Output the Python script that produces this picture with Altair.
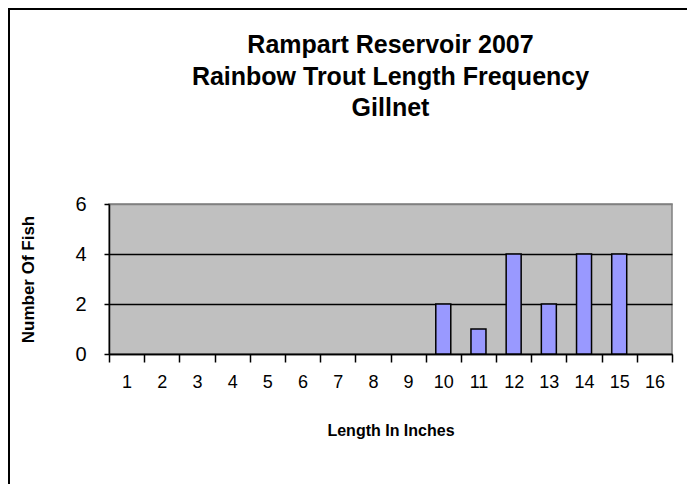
import altair as alt
import pandas as pd

lengths = [str(i) for i in range(1, 17)]
counts = [0, 0, 0, 0, 0, 0, 0, 0, 0, 2, 1, 4, 2, 4, 4, 0]
title_lines = ["Rampart Reservoir 2007", "Rainbow Trout Length Frequency", "Gillnet"]

df = pd.DataFrame({"length": lengths, "count": counts})

FONT = "Liberation Sans"

one = pd.DataFrame({"a": [0]})
frame_left = alt.Chart(one).mark_rule(color="black", strokeWidth=2).encode(
    x=alt.value(-100), y=alt.value(-196), y2=alt.value(700),
)
frame_top = alt.Chart(one).mark_rule(color="black", strokeWidth=2).encode(
    x=alt.value(-101), x2=alt.value(900), y=alt.value(-195),
)

title_y = [-159, -127, -96]
title_layers = [
    alt.Chart(one).mark_text(font=FONT, fontSize=25, fontWeight="bold", color="black",
                             align="center", baseline="middle").encode(
        x=alt.value(281.5), y=alt.value(ty), text=alt.value(t))
    for t, ty in zip(title_lines, title_y)
]

bars = alt.Chart(df).transform_filter("datum.count > 0").mark_bar(
    size=15, color="#9999FF", stroke="black", strokeWidth=1.5
).encode(
    x=alt.X("length:O", sort=lengths,
            scale=alt.Scale(domain=lengths, paddingInner=0, paddingOuter=0),
            axis=alt.Axis(title="Length In Inches", labelAngle=0, tickBand="extent",
                          tickSize=8, tickColor="black", tickWidth=1.5,
                          domainColor="black", domainWidth=1.5,
                          labelFont=FONT, labelFontSize=18, labelColor="black",
                          labelPadding=11,
                          titleFont=FONT, titleFontSize=16, titleFontWeight="bold",
                          titleColor="black", titleX=281.5, titleY=76,
                          titleBaseline="middle", titleAlign="center")),
    y=alt.Y("count:Q", scale=alt.Scale(domain=[0, 6]),
            axis=alt.Axis(title="Number Of Fish", values=[0, 2, 4, 6],
                          tickSize=5, tickColor="black", tickWidth=1.5,
                          domainColor="black", domainWidth=1.5,
                          grid=True,
                          gridColor={"condition": {"test": "datum.value == 6", "value": "#808080"}, "value": "black"},
                          gridWidth=1.5,
                          labelFont=FONT, labelFontSize=20, labelColor="black",
                          labelPadding=18,
                          titleFont=FONT, titleFontSize=17, titleFontWeight="bold",
                          titleColor="black", titleX=-81, titleY=75, titleAngle=-90,
                          titleBaseline="middle", titleAlign="center")),
)

chart = alt.layer(bars, frame_left, frame_top, *title_layers).properties(
    width=563, height=150,
    background="white",
    autosize=alt.AutoSizeParams(type="none"),
    padding={"left": 101, "top": 196, "right": 15, "bottom": 130},
).configure_view(
    fill="#C0C0C0", stroke="#808080", strokeWidth=1.5
)

chart.save("out.html", embed_options={"renderer": "svg", "actions": False})
